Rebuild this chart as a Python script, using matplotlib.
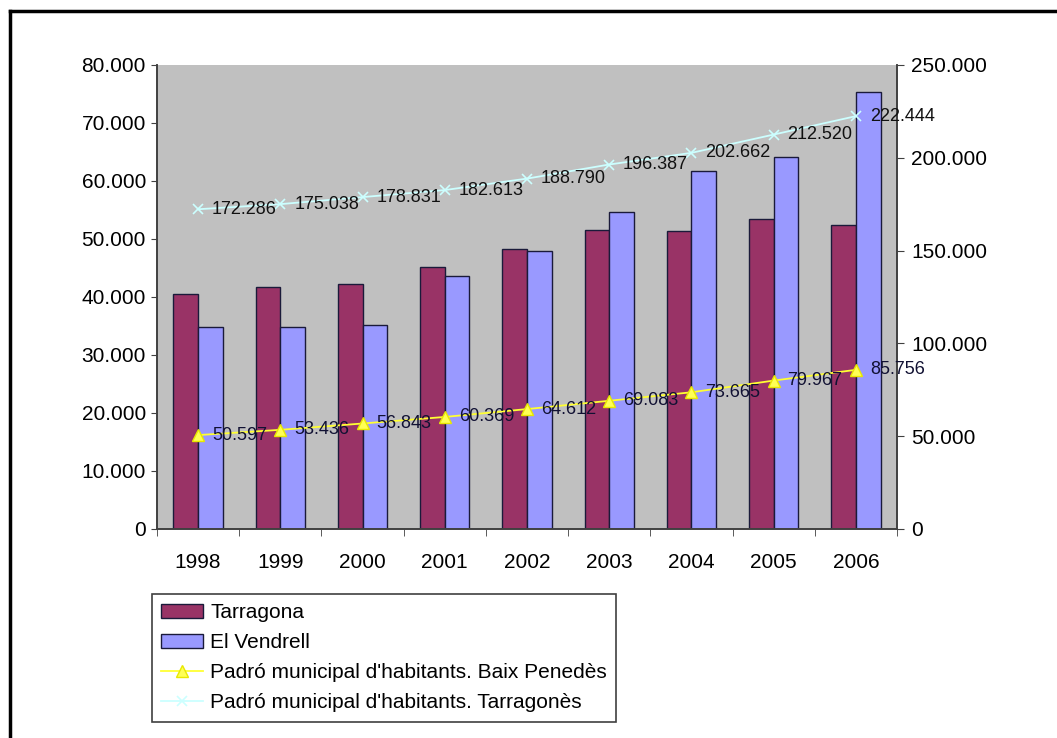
import matplotlib
matplotlib.use("Agg")
from matplotlib import pyplot as plt
from matplotlib.ticker import FuncFormatter, FixedLocator
from matplotlib.lines import Line2D
import numpy as np

plt.rcParams["font.family"] = ["Liberation Sans", "DejaVu Sans"]

years = ["1998", "1999", "2000", "2001", "2002", "2003", "2004", "2005", "2006"]
tarragona = [40600, 41700, 42200, 45200, 48200, 51500, 51300, 53400, 52500]
el_vendrell = [34900, 34900, 35200, 43600, 48000, 54600, 61700, 64100, 75300]
baix_penedes = [50597, 53436, 56843, 60369, 64612, 69083, 73665, 79967, 85756]
tarragones = [172286, 175038, 178831, 182613, 188790, 196387, 202662, 212520, 222444]


def dots(v, pos=None):
    return f"{int(round(v)):,}".replace(",", ".")


W, H = 1057, 738
fig = plt.figure(figsize=(W / 100, H / 100), dpi=100)
ax = fig.add_axes([157 / W, 1 - 529 / H, (897 - 157) / W, (529 - 65) / H])
ax2 = ax.twinx()

x = np.arange(len(years))
bw = 0.3
ax.set_facecolor("#C0C0C0")
ax.bar(x - bw / 2, tarragona, bw, color="#993366", edgecolor="#1a1a3a", linewidth=1, label="Tarragona", zorder=2)
ax.bar(x + bw / 2, el_vendrell, bw, color="#9999FF", edgecolor="#1a1a3a", linewidth=1, label="El Vendrell", zorder=2)

ax.set_xlim(-0.5, len(years) - 0.5)
ax.set_ylim(0, 80000)
ax.set_yticks(np.arange(0, 80001, 10000))
ax.yaxis.set_major_formatter(FuncFormatter(dots))
ax.set_xticks(x)
ax.set_xticklabels(years)
ax.xaxis.set_minor_locator(FixedLocator(np.arange(-0.5, len(years), 1.0)))
ax.tick_params(axis="x", which="major", length=0, pad=17, labelsize=15)
ax.tick_params(axis="x", which="minor", length=5, direction="out", color="#404040")
ax.tick_params(axis="y", length=4, direction="out", pad=4, labelsize=15, color="#404040")

ax2.set_ylim(0, 250000)
ax2.set_yticks(np.arange(0, 250001, 50000))
ax2.yaxis.set_major_formatter(FuncFormatter(dots))
ax2.tick_params(axis="y", length=5, direction="out", pad=5, labelsize=15, color="#404040")

for a in (ax, ax2):
    a.spines["top"].set_visible(False)
    for s in ("left", "right", "bottom"):
        a.spines[s].set_color("#404040")
        a.spines[s].set_linewidth(1.2)

# population lines on the right axis
l1, = ax2.plot(x, baix_penedes, color="#FFFF33", lw=1.3, marker="^", markersize=8,
               markerfacecolor="#FFFF55", markeredgecolor="#E8E800",
               label="Padró municipal d'habitants. Baix Penedès", zorder=3)
l2, = ax2.plot(x, tarragones, color="#CCFFFF", lw=1.3, marker="x", markersize=7,
               markeredgecolor="#CCFFFF", markeredgewidth=1.2,
               label="Padró municipal d'habitants. Tarragonès", zorder=3)

for xi, v in zip(x, baix_penedes):
    ax2.annotate(dots(v), (xi, v), xytext=(10, 0), textcoords="offset points",
                 ha="left", va="center", fontsize=13, color="#111133", zorder=4)
for xi, v in zip(x, tarragones):
    ax2.annotate(dots(v), (xi, v), xytext=(10, 0), textcoords="offset points",
                 ha="left", va="center", fontsize=13, color="#111111", zorder=4)

ax.set_zorder(1)
ax.patch.set_visible(True)
ax2.set_zorder(2)
ax2.patch.set_visible(False)

handles = [ax.patches[0], ax.patches[len(years)], l1, l2]
labels = ["Tarragona", "El Vendrell", l1.get_label(), l2.get_label()]
leg = fig.legend(handles, labels, loc="upper left", bbox_to_anchor=(152 / W, 1 - 594 / H),
                 bbox_transform=fig.transFigure, borderaxespad=0, fontsize=15,
                 fancybox=False, framealpha=1, edgecolor="#404040",
                 handlelength=2.0, handletextpad=0.35, borderpad=0.45, labelspacing=0.53)
leg.get_frame().set_linewidth(1.2)

# outer frame
fig.add_artist(Line2D([9.5 / W, 1], [1 - 10.5 / H, 1 - 10.5 / H], color="black", lw=2.5, transform=fig.transFigure))
fig.add_artist(Line2D([9.5 / W, 9.5 / W], [0, 1 - 10.5 / H], color="black", lw=2.5, transform=fig.transFigure))

fig.savefig("out.png", dpi=100, facecolor="white")
